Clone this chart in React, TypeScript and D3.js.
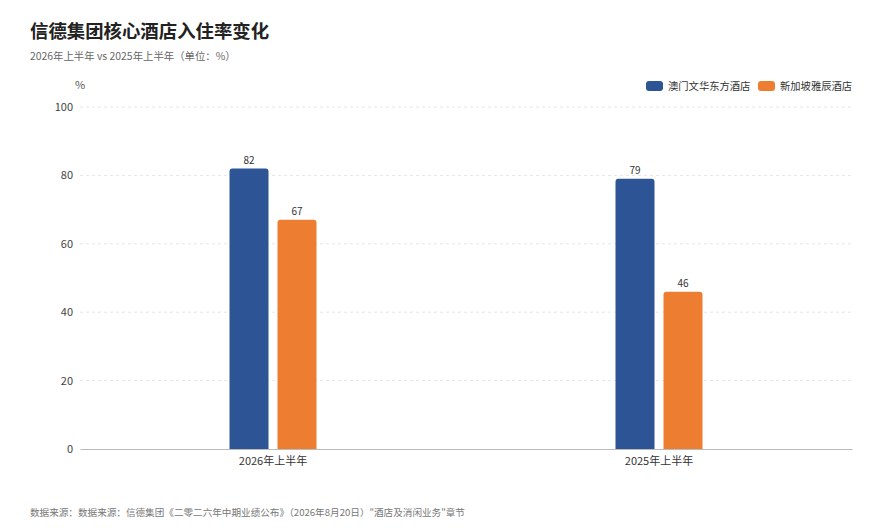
import React, { useEffect, useRef } from 'react';
import * as d3 from 'd3';

// ── Data ──────────────────────────────────────────────────────────────────────
const PERIODS = ['2026年上半年', '2025年上半年'];
const SERIES = ['澳门文华东方酒店', '新加坡雅辰酒店'];
const MACAU = [82, 79];
const SINGAPORE = [67, 46];
const Y_TICKS = [0, 20, 40, 60, 80, 100];
const COLORS = ['#2D5596', '#ED7D31'];

const W = 885;
const H = 531;
const FONT = '"Noto Sans CJK SC", "Noto Sans", sans-serif';

export default function App() {
  const svgRef = useRef<SVGSVGElement>(null);

  useEffect(() => {
    document.body.style.margin = '0';
    if (!svgRef.current) return;

    const M = { top: 107, right: 33, bottom: 82, left: 80 };
    const innerW = W - M.left - M.right;
    const innerH = H - M.top - M.bottom;

    const svg = d3.select(svgRef.current);
    svg.selectAll('*').remove();

    // ── Titles ────────────────────────────────────────────────────────────────
    svg.append('text').attr('x', 30).attr('y', 38)
      .attr('font-size', 18.4).attr('font-weight', 700).attr('fill', '#222')
      .text('信德集团核心酒店入住率变化');
    svg.append('text').attr('x', 30).attr('y', 60)
      .attr('font-size', 10.4).attr('fill', '#666')
      .text('2026年上半年 vs 2025年上半年（单位：%）');
    svg.append('text').attr('x', 30).attr('y', 516)
      .attr('font-size', 9.6).attr('fill', '#777')
      .text('数据来源：数据来源：信德集团《二零二六年中期业绩公布》（2026年8月20日）"酒店及消闲业务"章节');

    const g = svg.append('g').attr('transform', `translate(${M.left},${M.top})`);

    const x0 = d3.scaleBand().domain(PERIODS).range([0, innerW]);
    const y = d3.scaleLinear().domain([0, 100]).range([innerH, 0]);
    const barW = 39;
    const gap = 9;

    // ── Grid ──────────────────────────────────────────────────────────────────
    g.append('g')
      .selectAll('line')
      .data(Y_TICKS.filter(t => t > 0))
      .join('line')
      .attr('x1', 0).attr('x2', innerW)
      .attr('y1', d => y(d)).attr('y2', d => y(d))
      .attr('stroke', '#e6e6e6').attr('stroke-dasharray', '3,3');

    // ── Y axis ────────────────────────────────────────────────────────────────
    g.append('g')
      .call(d3.axisLeft(y).tickValues(Y_TICKS).tickSize(0).tickPadding(7))
      .call(ax => ax.select('.domain').remove())
      .call(ax => ax.selectAll('text')
        .attr('fill', '#444').attr('font-size', 11).attr('font-family', FONT));

    g.append('text').attr('x', 0).attr('y', -18)
      .attr('font-size', 11).attr('fill', '#555').attr('text-anchor', 'middle')
      .text('%');

    // ── Bars ──────────────────────────────────────────────────────────────────
    const values = [MACAU, SINGAPORE];
    const topRound = (x: number, yTop: number, w: number, h: number, r: number) =>
      `M${x},${yTop + h}V${yTop + r}Q${x},${yTop} ${x + r},${yTop}H${x + w - r}Q${x + w},${yTop} ${x + w},${yTop + r}V${yTop + h}Z`;

    PERIODS.forEach((p, i) => {
      const cx = (x0(p) ?? 0) + x0.bandwidth() / 2;
      values.forEach((vals, s) => {
        const v = vals[i];
        const bx = s === 0 ? cx - gap / 2 - barW : cx + gap / 2;
        g.append('path')
          .attr('d', topRound(bx, y(v), barW, innerH - y(v), 3))
          .attr('fill', COLORS[s]);
        g.append('text')
          .attr('x', bx + barW / 2).attr('y', y(v) - 5)
          .attr('text-anchor', 'middle').attr('font-size', 10).attr('fill', '#333')
          .text(v);
      });
    });

    // ── X axis ────────────────────────────────────────────────────────────────
    g.append('g')
      .attr('transform', `translate(0,${innerH})`)
      .call(d3.axisBottom(x0).tickSize(0).tickPadding(8))
      .call(ax => ax.select('.domain').attr('stroke', '#bbb'))
      .call(ax => ax.selectAll('text')
        .attr('fill', '#333').attr('font-size', 11).attr('font-family', FONT));

    // ── Legend ────────────────────────────────────────────────────────────────
    const legendX = [646, 758];
    SERIES.forEach((name, s) => {
      const lg = svg.append('g').attr('transform', `translate(${legendX[s]},81)`);
      lg.append('rect').attr('width', 17).attr('height', 10).attr('rx', 3)
        .attr('fill', COLORS[s]);
      lg.append('text').attr('x', 22).attr('y', 9)
        .attr('font-size', 10.3).attr('fill', '#333')
        .text(name);
    });
  }, []);

  return (
    <svg
      ref={svgRef}
      width={W}
      height={H}
      style={{ display: 'block', background: '#fff', fontFamily: FONT }}
    />
  );
}
